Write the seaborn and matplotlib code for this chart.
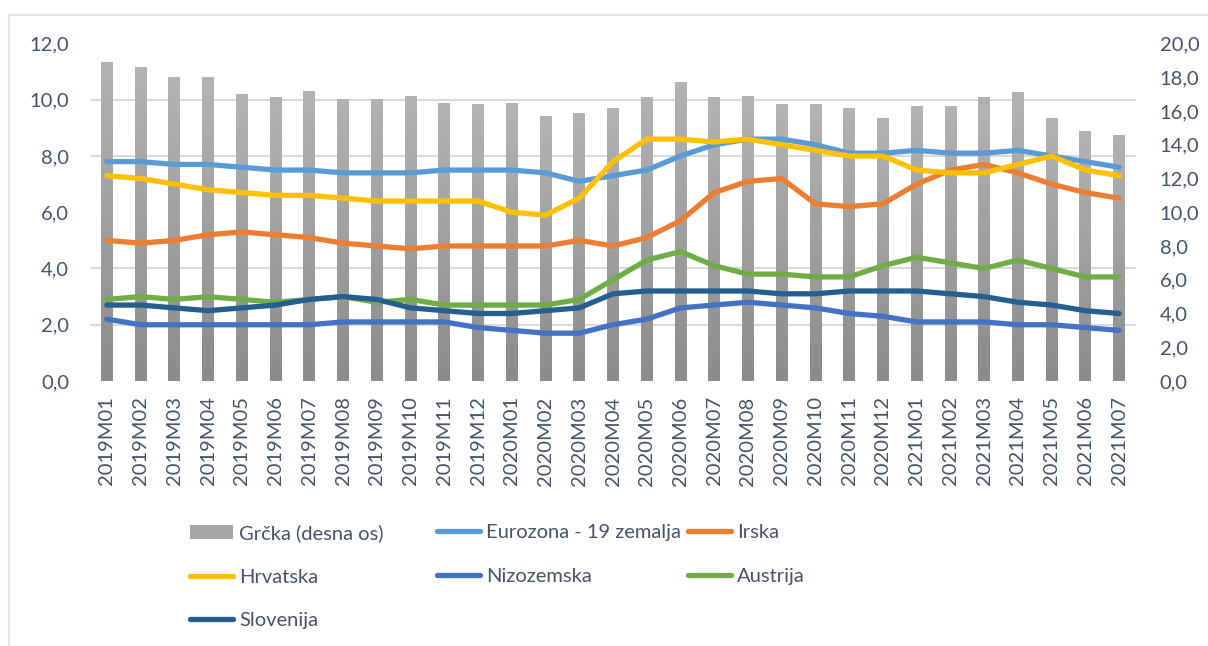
import numpy as np
import pandas as pd
import matplotlib.pyplot as plt
import seaborn as sns
from matplotlib.colors import LinearSegmentedColormap
from matplotlib.lines import Line2D
from matplotlib.patches import Patch
from matplotlib.ticker import FuncFormatter

months = [
    "2019M01", "2019M02", "2019M03", "2019M04", "2019M05", "2019M06",
    "2019M07", "2019M08", "2019M09", "2019M10", "2019M11", "2019M12",
    "2020M01", "2020M02", "2020M03", "2020M04", "2020M05", "2020M06",
    "2020M07", "2020M08", "2020M09", "2020M10", "2020M11", "2020M12",
    "2021M01", "2021M02", "2021M03", "2021M04", "2021M05", "2021M06",
    "2021M07",
]

# Grčka, right axis
grcka = [18.9, 18.6, 18.0, 18.0, 17.0, 16.8, 17.2, 16.7, 16.7, 16.9, 16.5,
         16.4, 16.5, 15.7, 15.9, 16.2, 16.8, 17.7, 16.8, 16.9, 16.4, 16.4,
         16.2, 15.6, 16.3, 16.3, 16.8, 17.1, 15.6, 14.8, 14.6]

eurozona = [7.8, 7.8, 7.7, 7.7, 7.6, 7.5, 7.5, 7.4, 7.4, 7.4, 7.5, 7.5, 7.5,
            7.4, 7.1, 7.3, 7.5, 8.0, 8.4, 8.6, 8.6, 8.4, 8.1, 8.1, 8.2, 8.1,
            8.1, 8.2, 8.0, 7.8, 7.6]
irska = [5.0, 4.9, 5.0, 5.2, 5.3, 5.2, 5.1, 4.9, 4.8, 4.7, 4.8, 4.8, 4.8,
         4.8, 5.0, 4.8, 5.1, 5.7, 6.7, 7.1, 7.2, 6.3, 6.2, 6.3, 7.0, 7.5,
         7.7, 7.4, 7.0, 6.7, 6.5]
hrvatska = [7.3, 7.2, 7.0, 6.8, 6.7, 6.6, 6.6, 6.5, 6.4, 6.4, 6.4, 6.4, 6.0,
            5.9, 6.5, 7.8, 8.6, 8.6, 8.5, 8.6, 8.4, 8.2, 8.0, 8.0, 7.5, 7.4,
            7.4, 7.7, 8.0, 7.5, 7.3]
nizozemska = [2.2, 2.0, 2.0, 2.0, 2.0, 2.0, 2.0, 2.1, 2.1, 2.1, 2.1, 1.9, 1.8,
              1.7, 1.7, 2.0, 2.2, 2.6, 2.7, 2.8, 2.7, 2.6, 2.4, 2.3, 2.1, 2.1,
              2.1, 2.0, 2.0, 1.9, 1.8]
austrija = [2.9, 3.0, 2.9, 3.0, 2.9, 2.8, 2.9, 3.0, 2.8, 2.9, 2.7, 2.7, 2.7,
            2.7, 2.9, 3.6, 4.3, 4.6, 4.1, 3.8, 3.8, 3.7, 3.7, 4.1, 4.4, 4.2,
            4.0, 4.3, 4.0, 3.7, 3.7]
slovenija = [2.7, 2.7, 2.6, 2.5, 2.6, 2.7, 2.9, 3.0, 2.9, 2.6, 2.5, 2.4, 2.4,
             2.5, 2.6, 3.1, 3.2, 3.2, 3.2, 3.2, 3.1, 3.1, 3.2, 3.2, 3.2, 3.1,
             3.0, 2.8, 2.7, 2.5, 2.4]

series = {
    "Eurozona - 19 zemalja": eurozona,
    "Irska": irska,
    "Hrvatska": hrvatska,
    "Nizozemska": nizozemska,
    "Austrija": austrija,
    "Slovenija": slovenija,
}
colors = {
    "Eurozona - 19 zemalja": "#5B9BD5",
    "Irska": "#ED7D31",
    "Hrvatska": "#FFC000",
    "Nizozemska": "#4472C4",
    "Austrija": "#70AD47",
    "Slovenija": "#255E91",
}

TEXT = "#44546A"
GRID = "#D9D9D9"
FS = 14.5
LW = 3.8

sns.set_theme(style="white")
plt.rcParams["font.family"] = ["Lato", "DejaVu Sans"]

W, H = 1208, 646
fig = plt.figure(figsize=(W / 100, H / 100), dpi=100)
ax = fig.add_axes([90 / W, 1 - 381 / H, (1136 - 90) / W, (381 - 43.5) / H])
ax2 = ax.twinx()

# bars on the twin (drawn underneath), lines on the main axes
ax.set_zorder(ax2.get_zorder() + 1)
ax.patch.set_visible(False)

pos = np.arange(len(months))
bars_df = pd.DataFrame({"pos": pos, "value": grcka})
sns.barplot(data=bars_df, x="pos", y="value", color="#A5A5A5", width=0.35,
            saturation=1, ax=ax2)

# vertical gray gradient inside each bar
grad_cmap = LinearSegmentedColormap.from_list("grey", ["#8C8C8C", "#B3B3B3"])
grad = np.linspace(0, 1, 64).reshape(-1, 1)
for p in list(ax2.patches):
    x0, w, h = p.get_x(), p.get_width(), p.get_height()
    im = ax2.imshow(grad, extent=[x0, x0 + w, 0, h], origin="lower",
                    aspect="auto", cmap=grad_cmap, vmin=0, vmax=1, zorder=1)
    im.set_clip_path(p)
    p.set_facecolor("none")
    p.set_edgecolor("none")

lines_df = pd.DataFrame({"pos": pos, **series}).melt(
    id_vars="pos", var_name="series", value_name="value")
sns.lineplot(data=lines_df, x="pos", y="value", hue="series",
             hue_order=list(series), palette=colors, linewidth=LW,
             legend=False, ax=ax)
for ln in ax.lines:
    ln.set_solid_capstyle("round")
    ln.set_solid_joinstyle("round")

ax.set_xlim(-0.5, len(months) - 0.5)
ax.set_ylim(0, 12)
ax2.set_ylim(0, 20)

fmt = FuncFormatter(lambda v, _: f"{v:.1f}".replace(".", ","))
ax.set_yticks(np.arange(0, 12.1, 2))
ax2.set_yticks(np.arange(0, 20.1, 2))
ax.yaxis.set_major_formatter(fmt)
ax2.yaxis.set_major_formatter(fmt)

# gridlines follow the left axis but sit below the bars
ax2.set_yticks(np.linspace(0, 20, 7), minor=True)
ax2.set_axisbelow(True)
ax2.grid(which="minor", axis="y", color=GRID, linewidth=1.4)
ax2.grid(which="major", visible=False)
ax.grid(False)

ax.set_xticks(pos)
ax.set_xticklabels(months, rotation=90)
ax.set_xlabel("")
ax.set_ylabel("")
ax2.set_xlabel("")
ax2.set_ylabel("")

ax.tick_params(axis="y", length=0, pad=15, labelsize=FS, labelcolor=TEXT)
ax2.tick_params(axis="y", which="both", length=0, pad=17, labelsize=FS,
                labelcolor=TEXT)
ax.tick_params(axis="x", length=0, pad=11, labelsize=FS, labelcolor=TEXT)
for a in (ax, ax2):
    for s in a.spines.values():
        s.set_visible(False)

# legend: three fixed-width columns like the original
leg_kw = dict(loc="upper left", frameon=False, fontsize=FS, labelcolor=TEXT,
              handlelength=2.15, handletextpad=0.3, borderpad=0,
              borderaxespad=0, labelspacing=1.32)


def line_handle(name):
    return Line2D([], [], color=colors[name], lw=LW, solid_capstyle="round")


col1 = ([Patch(facecolor="#A5A5A5", edgecolor="none"),
         line_handle("Hrvatska"), line_handle("Slovenija")],
        ["Grčka (desna os)", "Hrvatska", "Slovenija"])
col2 = ([line_handle("Eurozona - 19 zemalja"), line_handle("Nizozemska")],
        ["Eurozona - 19 zemalja", "Nizozemska"])
col3 = ([line_handle("Irska"), line_handle("Austrija")],
        ["Irska", "Austrija"])
for x_px, (handles, labels) in zip([190, 437, 688], [col1, col2, col3]):
    fig.legend(handles, labels, bbox_to_anchor=(x_px / W, 1 - 524 / H),
               **leg_kw)

# light outer frame (left and top edges only are visible)
frame = "#E1E4E8"
fig.add_artist(Line2D([8.5 / W, 8.5 / W], [0, 1 - 15 / H],
                      transform=fig.transFigure, color=frame, lw=1.5))
fig.add_artist(Line2D([8.5 / W, 1], [1 - 15 / H, 1 - 15 / H],
                      transform=fig.transFigure, color=frame, lw=1.5))

fig.savefig("out.png", dpi=100, facecolor="white")
